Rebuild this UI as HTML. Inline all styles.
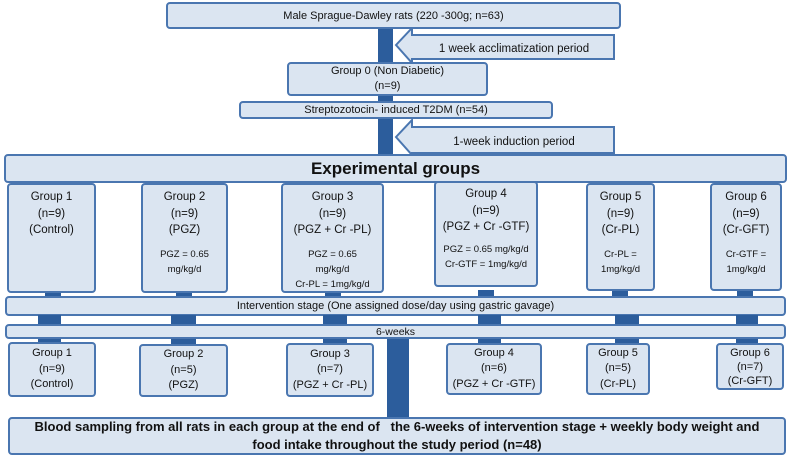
<!DOCTYPE html>
<html><head><meta charset="utf-8"><style>
body{margin:0;width:790px;height:461px;background:#fff;position:relative;overflow:hidden;font-family:"Liberation Sans",sans-serif;color:#111}
.b{position:absolute;box-sizing:border-box;background:#dbe5f1;border:2px solid #4a76b0;border-radius:4px;display:flex;flex-direction:column;align-items:center;justify-content:center;text-align:center;font-size:11px;line-height:16px}
.bar{position:absolute;background:#2c5d9c}
.g{justify-content:flex-start;padding-top:4px;font-size:11.5px;line-height:16.5px}
.d{font-size:9.5px;line-height:15px;margin-top:8px}
</style></head><body>
<div class="bar" style="left:378px;top:28px;width:15px;height:128px"></div>
<div class="bar" style="left:387px;top:336px;width:22px;height:84px"></div>

<div class="b" style="left:166px;top:2px;width:455px;height:27px">Male Sprague-Dawley rats (220 -300g; n=63)</div>

<svg style="position:absolute;left:394px;top:27px" width="225" height="40"><polygon points="2,18 18,1 18,8 220,8 220,32 18,32 18,36" fill="#dbe5f1" stroke="#4a76b0" stroke-width="2"/><text x="120" y="25" font-size="11.5" text-anchor="middle" font-family="Liberation Sans" fill="#111">1 week  acclimatization period</text></svg>

<div class="b" style="left:287px;top:62px;width:201px;height:34px;line-height:15px">Group 0 (Non Diabetic)<br>(n=9)</div>
<div class="b" style="left:239px;top:101px;width:314px;height:18px">Streptozotocin- induced T2DM (n=54)</div>

<svg style="position:absolute;left:394px;top:119px" width="225" height="38"><polygon points="2,18 18,1 18,8 220,8 220,34 18,34 18,36" fill="#dbe5f1" stroke="#4a76b0" stroke-width="2"/><text x="120" y="26" font-size="11.5" text-anchor="middle" font-family="Liberation Sans" fill="#111">1-week induction period</text></svg>

<div class="b" style="left:4px;top:154px;width:783px;height:29px;font-size:17px;font-weight:bold">Experimental groups</div>

<div class="bar" style="left:45px;top:290px;width:16px;height:8px"></div>
<div class="bar" style="left:176px;top:290px;width:16px;height:8px"></div>
<div class="bar" style="left:325px;top:290px;width:16px;height:8px"></div>
<div class="bar" style="left:478px;top:290px;width:16px;height:8px"></div>
<div class="bar" style="left:612px;top:290px;width:16px;height:8px"></div>
<div class="bar" style="left:737px;top:290px;width:16px;height:8px"></div>

<div class="b g" style="left:7px;top:183px;width:89px;height:110px">Group 1<br>(n=9)<br>(Control)</div>
<div class="b g" style="left:141px;top:183px;width:87px;height:110px">Group 2<br>(n=9)<br>(PGZ)<div class="d">PGZ = 0.65<br>mg/kg/d</div></div>
<div class="b g" style="left:281px;top:183px;width:103px;height:110px">Group 3<br>(n=9)<br>(PGZ + Cr -PL)<div class="d">PGZ = 0.65<br>mg/kg/d<br>Cr-PL = 1mg/kg/d</div></div>
<div class="b g" style="left:434px;top:181px;width:104px;height:106px;padding-top:3px">Group 4<br>(n=9)<br>(PGZ + Cr -GTF)<div class="d" style="margin-top:6px">PGZ = 0.65 mg/kg/d<br>Cr-GTF = 1mg/kg/d</div></div>
<div class="b g" style="left:586px;top:183px;width:69px;height:108px">Group 5<br>(n=9)<br>(Cr-PL)<div class="d">Cr-PL =<br>1mg/kg/d</div></div>
<div class="b g" style="left:710px;top:183px;width:72px;height:108px">Group 6<br>(n=9)<br>(Cr-GFT)<div class="d">Cr-GTF =<br>1mg/kg/d</div></div>

<div class="b" style="left:5px;top:296px;width:781px;height:20px">Intervention stage (One assigned dose/day using gastric gavage)</div>

<div class="bar" style="left:38px;top:315px;width:23px;height:28px"></div>
<div class="bar" style="left:171px;top:315px;width:25px;height:30px"></div>
<div class="bar" style="left:323px;top:315px;width:24px;height:30px"></div>
<div class="bar" style="left:478px;top:315px;width:23px;height:30px"></div>
<div class="bar" style="left:615px;top:315px;width:24px;height:30px"></div>
<div class="bar" style="left:736px;top:315px;width:22px;height:30px"></div>

<div class="b" style="left:5px;top:324px;width:781px;height:15px;font-size:10.5px">6-weeks</div>

<div class="b" style="left:8px;top:342px;width:88px;height:55px;line-height:15.5px">Group 1<br>(n=9)<br>(Control)</div>
<div class="b" style="left:139px;top:344px;width:89px;height:53px;line-height:15.5px">Group 2<br>(n=5)<br>(PGZ)</div>
<div class="b" style="left:286px;top:343px;width:88px;height:54px;line-height:15.5px">Group 3<br>(n=7)<br>(PGZ + Cr -PL)</div>
<div class="b" style="left:446px;top:343px;width:96px;height:52px;line-height:15.5px">Group 4<br>(n=6)<br>(PGZ + Cr -GTF)</div>
<div class="b" style="left:586px;top:343px;width:64px;height:52px;line-height:15.5px">Group 5<br>(n=5)<br>(Cr-PL)</div>
<div class="b" style="left:716px;top:343px;width:68px;height:47px;line-height:14px">Group 6<br>(n=7)<br>(Cr-GFT)</div>

<div class="b" style="left:8px;top:417px;width:778px;height:38px;font-size:13px;font-weight:bold;line-height:18px">Blood sampling from all rats in each group at the end of&nbsp;&nbsp; the 6-weeks of intervention stage + weekly body weight and<br>food intake throughout the study period (n=48)</div>
</body></html>
